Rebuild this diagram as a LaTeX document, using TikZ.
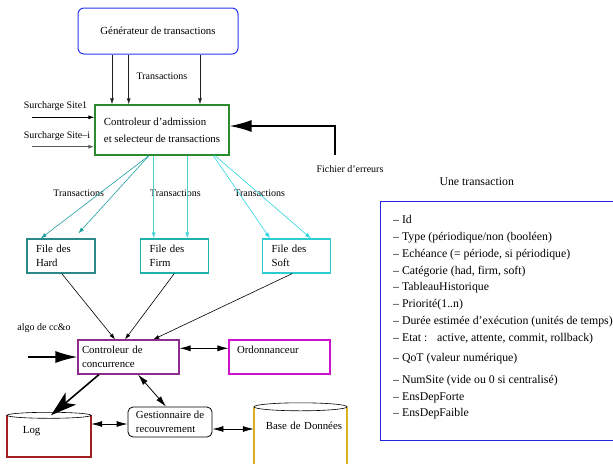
\documentclass[tikz,border=0pt]{standalone}
\usepackage{fontspec}
\setmainfont{Liberation Serif}
\usepackage{xcolor}
\usetikzlibrary{arrows.meta}

\definecolor{genbleu}{HTML}{2A35F5}
\definecolor{admvert}{HTML}{2A8C2A}
\definecolor{hardc}{HTML}{2A8A8A}
\definecolor{firmc}{HTML}{1FB0AC}
\definecolor{softc}{HTML}{2ECCD0}
\definecolor{flhard}{HTML}{1E9E9E}
\definecolor{flfirm}{HTML}{48D4D4}
\definecolor{flsoft}{HTML}{2CD4E0}
\definecolor{ccviolet}{HTML}{902C90}
\definecolor{ordomag}{HTML}{CC10CC}
\definecolor{logrouge}{HTML}{A02020}
\definecolor{bddor}{HTML}{D8B020}
\definecolor{listebleu}{HTML}{2424E0}

\begin{document}
\begin{tikzpicture}[x=1pt,y=-1pt,
  boxfont/.style={font=\fontsize{10.8}{14}\selectfont},
  etiq/.style={font=\fontsize{10}{12}\selectfont,inner sep=0pt},
  filebox/.style={line width=1.1pt,minimum width=68pt,minimum height=34pt,
    text width=50pt,inner xsep=9pt,inner ysep=0pt,align=left,boxfont},
  fl/.style={-{Latex[length=6pt,width=4pt]}},
  gros/.style={line width=1.6pt,-{Latex[length=22pt,width=12pt]}},
  bidir/.style={line width=0.8pt,{Latex[length=11pt,width=6pt]}-{Latex[length=11pt,width=6pt]}}]
\useasboundingbox (0,0) rectangle (613,464);

% les boites
\node (gen) [draw=genbleu,line width=1pt,rounded corners=6pt,minimum width=160pt,
  minimum height=46pt,boxfont] at (158,31) {Générateur de transactions};
\node (adm) [draw=admvert,line width=1.2pt,minimum width=134pt,minimum height=50pt,
  align=left,font=\fontsize{10.8}{17}\selectfont] at (162,130)
  {Controleur d’admission\\et selecteur de transactions};
\node (hard) [filebox,draw=hardc] at (61,256) {File des\\Hard};
\node (firm) [filebox,draw=firmc] at (174.5,256) {File des\\Firm};
\node (soft) [filebox,draw=softc] at (296.5,256) {File des\\Soft};
\node (cc) [draw=ccviolet,line width=1.1pt,minimum width=101pt,minimum height=34pt,
  text width=93pt,inner xsep=4pt,inner ysep=0pt,align=left,boxfont] at (128.5,357)
  {Controleur de\\concurrence};
\node (ordo) [draw=ordomag,line width=1.1pt,minimum width=101pt,minimum height=34pt,
  text width=85pt,inner xsep=8pt,inner ysep=0pt,align=left,text height=8pt,
  text depth=16pt,boxfont] at (279.5,357) {Ordonnanceur};
\node (gest) [draw,line width=0.8pt,rounded corners=5pt,minimum width=84pt,
  minimum height=30pt,inner sep=2pt,align=left,boxfont] at (170,422)
  {Gestionnaire de\\recouvrement};
\node (log) [minimum width=84pt,minimum height=41.5pt,text width=52pt,inner xsep=16pt,
  align=left,text height=8pt,text depth=14.5pt,boxfont] at (49,436.25) {Log};
\node (bdd) [minimum width=93pt,minimum height=57pt,text width=83pt,inner xsep=5pt,
  align=right,text height=8pt,text depth=20.6pt,boxfont] at (300.5,435.5)
  {Base de Données};

% cylindres
\draw[color=logrouge,line width=1.5pt] (log.north west) -- (log.south west)
  -- (log.south east) -- (log.north east);
\draw[line width=0.6pt] (log.north) ellipse [x radius=42pt,y radius=3pt];
\draw[color=bddor,line width=1.5pt] (bdd.south west) -- (bdd.north west)
  (bdd.north east) -- (bdd.south east);
\draw[line width=0.6pt] (bdd.north) ellipse [x radius=46.5pt,y radius=4pt];

% etiquettes
\node (ltr) [etiq] at (162,76.5) {Transactions};
\node (ls1) [etiq] at (55.5,106) {Surcharge Site1};
\node (lsi) [etiq] at (57,136) {Surcharge Site–i};
\node (lerr) [etiq] at (350,169) {Fichier d’erreurs};
\node (ltrh) [etiq] at (78.7,193.3) {Transactions};
\node (ltrf) [etiq] at (175.5,193.3) {Transactions};
\node (ltrs) [etiq] at (259.7,193.3) {Transactions};
\node (lalgo) [etiq] at (44,328.3) {algo de cc\&o};

% generateur -> admission
\draw[fl,line width=0.8pt,gray!25!black] (gen.south -| 112,0) -- (adm.north -| 112,0);
\draw[fl,line width=0.8pt,gray!25!black] (gen.south -| 128.7,0) -- (adm.north -| 128.7,0);
\draw[fl,line width=0.8pt,gray!25!black] (gen.south -| 200,0) -- (adm.north -| 200,0);

% surcharges et erreurs
\coordinate (s1) at (32,117.3);
\coordinate (si) at (32,146.7);
\coordinate (err) at (335,155);
\draw[fl,line width=0.8pt] (s1) -- (s1 -| adm.west);
\draw[fl,line width=1.2pt,gray!70!black] (si) -- (si -| adm.west);
\draw[gros] (err) |- (adm.east |- 0,126);

% admission -> files
\draw[fl,flhard,line width=0.6pt] (adm.south -| 149,0) -- (hard.north -| 40.7,0);
\draw[fl,flhard,line width=0.6pt] (adm.south -| 149,0) -- (78.3,233.5);
\draw[fl,flfirm,line width=0.8pt] (adm.south -| 153.7,0) -- (firm.north -| 153.7,0);
\draw[fl,flfirm,line width=0.8pt] (adm.south -| 187.3,0) -- (firm.north -| 187.3,0);
\draw[fl,flsoft,line width=0.6pt] (adm.south -| 213.3,0) -- (soft.north -| 270,0);
\draw[fl,flsoft,line width=0.6pt] (adm.south -| 215,0) -- (soft.north -| 311,0);

% files -> concurrence
\draw[fl,line width=0.6pt] (hard.south -| 61.7,0) -- (cc.north -| 115,0);
\draw[fl,line width=0.6pt] (firm.south -| 174.3,0) -- (cc.north -| 125,0);
\draw[fl,line width=0.6pt] (soft.south -| 292.3,0) -- (cc.north -| 153.3,0);

% concurrence et le reste
\coordinate (algo) at (28,357);
\draw[gros] (algo) -- (cc.west);
\draw[bidir] (cc.east |- 0,348.3) -- (ordo.west |- 0,348.3);
\draw[line width=1.6pt,-{Stealth[length=26pt,width=16pt,inset=7pt]}]
  (cc.south -| 99,0) -- (log.north -| 51,0);
\draw[bidir] (cc.south -| 138,0) -- (gest.north -| 166,0);
\draw[bidir] (log.east |- 0,424) -- (gest.west |- 0,424);
\draw[bidir] (gest.east |- 0,429) -- (bdd.west |- 0,429);

% une transaction
\node (titre) [font=\fontsize{11.8}{14}\selectfont] at (476.7,181.7) {Une transaction};
\node (liste) [anchor=north west,minimum width=240pt,minimum height=239pt] at (380.5,201.5) {};
\draw[draw=listebleu,line width=1pt] (liste.north east) -- (liste.north west)
  -- (liste.south west) -- (liste.south east);
\node (items) [anchor=north west,inner sep=0pt,align=left,
  font=\fontsize{11.8}{16.8}\selectfont] at (393,215.3)
  {– Id\\
   – Type (périodique/non (booléen)\\
   – Echéance (= période, si périodique)\\
   – Catégorie (had, firm, soft)\\
   – TableauHistorique\\
   – Priorité(1..n)\\
   – Durée estimée d’exécution (unités de temps)\\
   – Etat :~~ active, attente, commit, rollback)\\[3.5pt]
   – QoT (valeur numérique)\\[5pt]
   – NumSite (vide ou 0 si centralisé)\\
   – EnsDepForte\\
   – EnsDepFaible};
\end{tikzpicture}
\end{document}
